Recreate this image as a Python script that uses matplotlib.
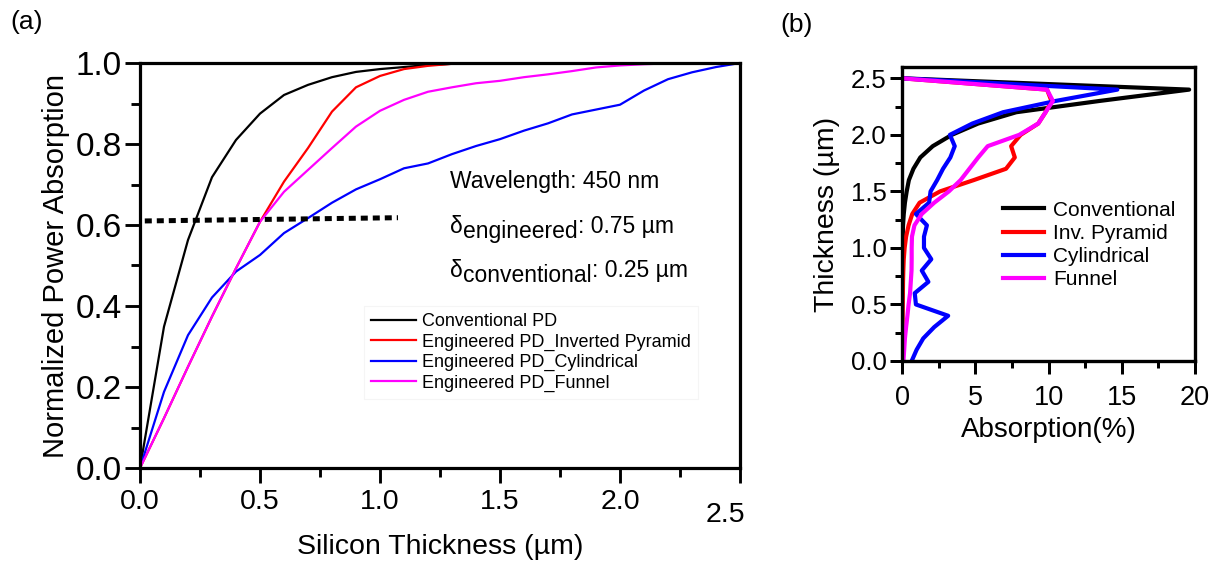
"""Normalized power absorption (a) and absorption profile (b) for the photodiode designs."""

import matplotlib

matplotlib.use("Agg")
import matplotlib.pyplot as plt
from matplotlib.ticker import MultipleLocator
from matplotlib.transforms import ScaledTranslation

plt.rcParams["font.family"] = ["Liberation Sans", "DejaVu Sans"]

# (a) cumulative absorption vs silicon thickness, sampled every 0.1 um
thickness_a = [0.0, 0.1, 0.2, 0.3, 0.4, 0.5, 0.6, 0.7, 0.8, 0.9, 1.0, 1.1, 1.2,
               1.3, 1.4, 1.5, 1.6, 1.7, 1.8, 1.9, 2.0, 2.1, 2.2, 2.3, 2.4, 2.5]
conventional_a = [0.0, 0.349, 0.563, 0.718, 0.81, 0.875, 0.921, 0.946, 0.965, 0.978, 0.985,
                  0.99, 0.995, 0.998, 1.0, 1.0, 1.0, 1.0, 1.0, 1.0, 1.0, 1.0, 1.0, 1.0, 1.0, 1.0]
pyramid_a = [0.0, 0.123, 0.25, 0.374, 0.493, 0.608, 0.707, 0.79, 0.88, 0.94, 0.968,
             0.985, 0.993, 0.998, 1.0, 1.0, 1.0, 1.0, 1.0, 1.0, 1.0, 1.0, 1.0, 1.0, 1.0, 1.0]
cylindrical_a = [0.0, 0.188, 0.328, 0.421, 0.485, 0.526, 0.58, 0.617, 0.655, 0.688, 0.713,
                 0.74, 0.752, 0.775, 0.795, 0.812, 0.833, 0.851, 0.873, 0.885, 0.897,
                 0.932, 0.96, 0.977, 0.99, 1.0]
funnel_a = [0.0, 0.123, 0.25, 0.374, 0.493, 0.608, 0.682, 0.736, 0.79, 0.843, 0.882,
            0.909, 0.929, 0.94, 0.95, 0.956, 0.965, 0.972, 0.98, 0.989, 0.994, 0.997,
            0.999, 1.0, 1.0, 1.0]
marker_x = [0.02, 1.075]
marker_y = [0.61, 0.618]

# (b) absorption (%) per depth slice, thickness sampled every 0.1 um
thickness_b = [2.5, 2.4, 2.3, 2.2, 2.1, 2.0, 1.9, 1.8, 1.7, 1.6, 1.5, 1.4, 1.3,
               1.2, 1.1, 1.0, 0.9, 0.8, 0.7, 0.6, 0.5, 0.4, 0.3, 0.2, 0.1, 0.0]
conventional_b = [0.0, 19.6, 13.5, 7.8, 5.2, 3.4, 2.1, 1.25, 0.78, 0.47, 0.32, 0.2, 0.12,
                  0.07, 0.05, 0.03, 0.02, 0.02, 0.02, 0.02, 0.02, 0.01, 0.01, 0.01, 0.01, 0.01]
pyramid_b = [0.0, 9.9, 10.2, 9.8, 9.3, 8.1, 7.45, 7.7, 7.1, 4.9, 2.6, 1.2, 0.7,
             0.45, 0.28, 0.18, 0.12, 0.09, 0.07, 0.06, 0.05, 0.04, 0.03, 0.02, 0.02, 0.01]
cylindrical_b = [0.0, 14.7, 10.5, 6.9, 4.8, 3.27, 3.6, 3.3, 2.8, 2.4, 1.95, 1.85, 0.95,
                 1.7, 1.5, 1.5, 2.0, 1.35, 1.8, 0.87, 0.95, 3.15, 2.2, 1.45, 1.0, 0.66]
funnel_b = [0.0, 9.9, 10.3, 9.8, 9.3, 8.0, 5.85, 5.2, 4.6, 4.0, 3.2, 2.2, 1.35,
            0.85, 0.68, 0.66, 0.66, 0.65, 0.6, 0.55, 0.45, 0.37, 0.28, 0.2, 0.15, 0.1]

labels_a = ["Conventional PD", "Engineered PD_Inverted Pyramid",
            "Engineered PD_Cylindrical", "Engineered PD_Funnel"]
labels_b = ["Conventional", "Inv. Pyramid", "Cylindrical", "Funnel"]
colors = ["black", "#ff0000", "#0000ff", "#ff00ff"]


def style_axes(ax, spine_w, tick_size, major_len, minor_len):
    for side in ax.spines.values():
        side.set_linewidth(spine_w)
    ax.tick_params(which="both", direction="out", top=False, right=False,
                   width=spine_w * 0.9, labelsize=tick_size)
    ax.tick_params(which="major", length=major_len)
    ax.tick_params(which="minor", length=minor_len)


W, H = 1220, 565
fig = plt.figure(figsize=(W / 100, H / 100), dpi=100)
ax1 = fig.add_axes([140 / W, 1 - 468 / H, 600 / W, 405 / H])
ax2 = fig.add_axes([902 / W, 1 - 361 / H, 293 / W, 294 / H])

# ---- panel (a)
for ys, c, lab in zip([conventional_a, pyramid_a, cylindrical_a, funnel_a], colors, labels_a):
    ax1.plot(thickness_a, ys, color=c, lw=1.6, label=lab)
ax1.plot(marker_x, marker_y, color="black", lw=3.6, linestyle=(0, (1.4, 1.0)))

ax1.set_xlim(0, 2.5)
ax1.set_ylim(0, 1.0)
ax1.xaxis.set_major_locator(MultipleLocator(0.5))
ax1.xaxis.set_minor_locator(MultipleLocator(0.25))
ax1.yaxis.set_major_locator(MultipleLocator(0.2))
ax1.yaxis.set_minor_locator(MultipleLocator(0.1))
ax1.xaxis.set_major_formatter(lambda v, p: f"{v:.1f}")
ax1.yaxis.set_major_formatter(lambda v, p: f"{v:.1f}")
style_axes(ax1, 2.3, 20.5, 11, 6.5)
ax1.tick_params(axis="y", labelsize=24, pad=2)
ax1.tick_params(axis="x", pad=4)
ax1.set_xlabel("Silicon Thickness (µm)", fontsize=20.5)
ax1.xaxis.set_label_coords(0.5, -0.163)
ax1.set_ylabel("Normalized Power Absorption", fontsize=21, labelpad=4)

ax1.text(1.29, 0.691, "Wavelength: 450 nm", fontsize=16.5, va="baseline")
for y0, sub, val in [(0.581, "engineered", ": 0.75 µm"), (0.472, "conventional", ": 0.25 µm")]:
    t0 = ax1.text(1.29, y0, "δ", fontsize=16.5, va="baseline")
    t1 = ax1.annotate(sub, xy=(1, 0), xycoords=t0, xytext=(0.5, -4),
                      textcoords="offset points", fontsize=16.5, va="bottom")
    ax1.annotate(val, xy=(1, 0), xycoords=t1, xytext=(0, 4),
                 textcoords="offset points", fontsize=16.5, va="bottom")

leg1 = ax1.legend(loc="upper left", bbox_to_anchor=(0.373, 0.40), fontsize=13,
                  handlelength=2.5, handletextpad=0.33, labelspacing=0.18,
                  borderpad=0.4, borderaxespad=0, fancybox=False, framealpha=1)
leg1.get_frame().set_edgecolor("#f5f5f5")
leg1.get_frame().set_linewidth(0.8)

# ---- panel (b)
for xs, c, lab in zip([conventional_b, pyramid_b, cylindrical_b, funnel_b], colors, labels_b):
    ax2.plot(xs, thickness_b, color=c, lw=3.0, label=lab)

ax2.set_xlim(0, 20)
ax2.set_ylim(0, 2.6)
ax2.xaxis.set_major_locator(MultipleLocator(5))
ax2.xaxis.set_minor_locator(MultipleLocator(2.5))
ax2.yaxis.set_major_locator(MultipleLocator(0.5))
ax2.yaxis.set_minor_locator(MultipleLocator(0.25))
ax2.yaxis.set_major_formatter(lambda v, p: f"{v:.1f}")
style_axes(ax2, 2.4, 18.5, 9, 5)
ax2.tick_params(axis="y", pad=2)
ax2.tick_params(axis="x", pad=8, labelsize=19.5)
ax2.set_xlabel("Absorption(%)", fontsize=20)
ax2.xaxis.set_label_coords(0.5, -0.19)
ax2.set_ylabel("Thickness (µm)", fontsize=20.5, labelpad=8)
ax2.legend(loc="upper left", bbox_to_anchor=(0.344, 0.545), fontsize=15,
           handlelength=2.0, handletextpad=0.43, labelspacing=0.2,
           borderpad=0, borderaxespad=0, frameon=False)

fig.text(10 / W, 1 - 22 / H, "(a)", fontsize=19, va="center", ha="left")
fig.text(780 / W, 1 - 25 / H, "(b)", fontsize=19, va="center", ha="left")

# the last x tick label of (a) sits lower and a bit to the left in the original
fig.canvas.draw()
for tick in ax1.xaxis.get_major_ticks():
    if abs(tick.get_loc() - 2.5) < 1e-6:
        tick.label1.set_transform(tick.label1.get_transform()
                                  + ScaledTranslation(-0.15, -0.13, fig.dpi_scale_trans))

fig.savefig("out.png", dpi=100)
